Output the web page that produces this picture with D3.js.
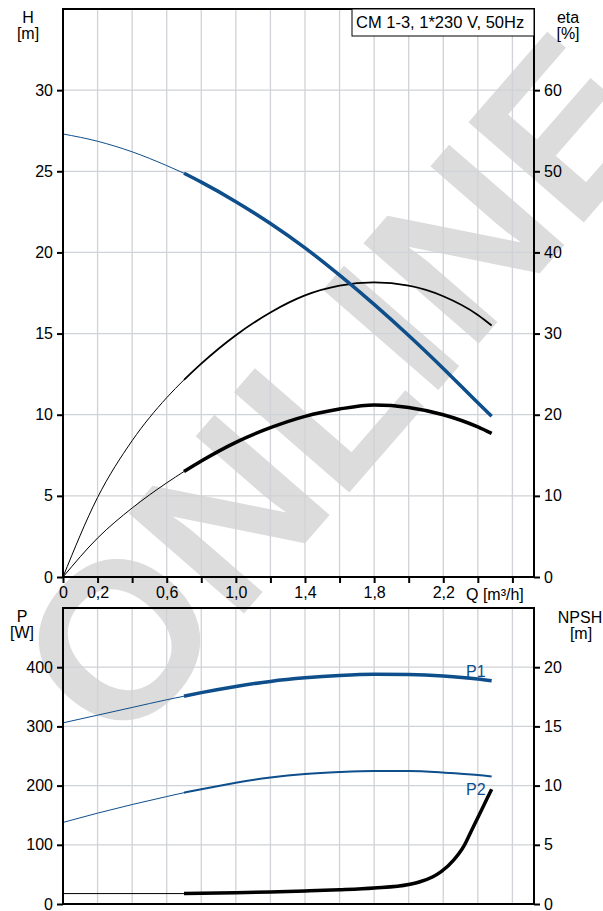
<!DOCTYPE html>
<html>
<head>
<meta charset="utf-8">
<script src="https://cdn.jsdelivr.net/npm/d3@7"></script>
<style>
body { margin: 0; background: #fff; }
text { font-family: "Liberation Sans", Arial, sans-serif; }
</style>
</head>
<body>
<div id="chart"></div>
<script>
// pump curve data
var q = [0, 0.2, 0.4, 0.6, 0.7, 0.8, 1.0, 1.2, 1.4, 1.6, 1.8, 2.0, 2.2, 2.4, 2.48];
var head = [27.3, 26.85, 26.2, 25.35, 24.88, 24.33, 23.13, 21.78, 20.28, 18.6, 16.8, 14.88, 12.85, 10.73, 9.9];
var etaPump = [0, 9.8, 16.8, 22.1, 24.3, 26.3, 29.8, 32.6, 34.7, 35.9, 36.3, 35.9, 34.6, 32.3, 31.0];
var etaTotal = [0, 4.8, 8.5, 11.6, 13.0, 14.3, 16.6, 18.4, 19.8, 20.7, 21.2, 20.9, 20.0, 18.5, 17.7];
var p1 = [306, 319, 332, 345, 351, 357, 367.5, 376, 382, 386, 388, 387.5, 385, 380, 377];
var p2 = [137.8, 153.5, 168, 181.5, 188, 194, 205, 213.5, 219.5, 223, 224.8, 224.5, 222, 218, 215.5];
var npshQ = [0, 0.7, 1.0, 1.2, 1.4, 1.6, 1.8, 2.0, 2.07, 2.14, 2.19, 2.26, 2.32, 2.37, 2.43, 2.48];
var npsh = [0.88, 0.88, 0.95, 1.02, 1.1, 1.2, 1.35, 1.65, 1.9, 2.3, 2.75, 3.7, 4.9, 6.4, 8.2, 9.7];

var qTicks = [0, 0.2, 0.4, 0.6, 0.8, 1.0, 1.2, 1.4, 1.6, 1.8, 2.0, 2.2, 2.4, 2.6];
var qLabels = [0, 0.2, 0.6, 1.0, 1.4, 1.8, 2.2];
var hTicks = [0, 5, 10, 15, 20, 25, 30];
var etaTicks = [0, 10, 20, 30, 40, 50, 60];
var pTicks = [0, 100, 200, 300, 400];
var npshTicks = [0, 5, 10, 15, 20];
var title = "CM 1-3, 1*230 V, 50Hz";
var qSplit = 0.7; // start of the bold (operating) range

var blue = "#0d4e8b";
var gridColor = "#cfd2d6";

var svg = d3.select("#chart")
    .append("svg")
    .attr("width", 603)
    .attr("height", 911);

var x = d3.scaleLinear().domain([0, 2.725]).range([63, 534]);
var yH = d3.scaleLinear().domain([0, 35]).range([577, 9]);
var yEta = d3.scaleLinear().domain([0, 70]).range([577, 9]);
var yP = d3.scaleLinear().domain([0, 500]).range([904, 608]);
var yN = d3.scaleLinear().domain([0, 25]).range([904, 608]);

// watermark
svg.append("text")
    .attr("transform", "translate(338,388) rotate(-49)")
    .attr("text-anchor", "middle")
    .attr("dominant-baseline", "central")
    .attr("font-size", 222)
    .attr("font-weight", "bold")
    .attr("fill", "#dcdcdc")
    .text("ONLINE");

function grid(yScale, yTicks, top, bottom) {
    svg.append("g").selectAll("line.v")
        .data(qTicks.slice(1))
        .enter().append("line")
        .attr("x1", function (d) { return x(d); })
        .attr("x2", function (d) { return x(d); })
        .attr("y1", top)
        .attr("y2", bottom)
        .style("stroke", gridColor)
        .style("stroke-width", 1.3);
    svg.append("g").selectAll("line.h")
        .data(yTicks.slice(1))
        .enter().append("line")
        .attr("x1", 63)
        .attr("x2", 534)
        .attr("y1", function (d) { return yScale(d); })
        .attr("y2", function (d) { return yScale(d); })
        .style("stroke", gridColor)
        .style("stroke-width", 1.3);
}

grid(yH, hTicks, 9, 577);
grid(yP, pTicks, 608, 904);

function curve(qs, vals, yScale, from, to, color, width) {
    var pts = [];
    for (var i = 0; i < qs.length; i++) {
        if (qs[i] >= from && qs[i] <= to) pts.push([qs[i], vals[i]]);
    }
    var line = d3.line()
        .x(function (d) { return x(d[0]); })
        .y(function (d) { return yScale(d[1]); })
        .curve(d3.curveMonotoneX);
    svg.append("path")
        .attr("d", line(pts))
        .style("fill", "none")
        .style("stroke", color)
        .style("stroke-width", width);
}

// top chart: head + efficiencies
curve(q, etaPump, yEta, 0, qSplit, "#000", 1);
curve(q, etaPump, yEta, qSplit, 3, "#000", 1.8);
curve(q, etaTotal, yEta, 0, qSplit, "#000", 1);
curve(q, etaTotal, yEta, qSplit, 3, "#000", 3.5);
curve(q, head, yH, 0, qSplit, blue, 1);
curve(q, head, yH, qSplit, 3, blue, 3.5);

// bottom chart: power + npsh
curve(q, p1, yP, 0, qSplit, blue, 1);
curve(q, p1, yP, qSplit, 3, blue, 3.5);
curve(q, p2, yP, 0, qSplit, blue, 1);
curve(q, p2, yP, qSplit, 3, blue, 2);
curve(npshQ, npsh, yN, 0, qSplit, "#000", 1);
curve(npshQ, npsh, yN, qSplit, 3, "#000", 3.5);

svg.append("text")
    .attr("x", 466)
    .attr("y", 677)
    .attr("font-size", 16)
    .attr("fill", blue)
    .text("P1");
svg.append("text")
    .attr("x", 466)
    .attr("y", 795)
    .attr("font-size", 16)
    .attr("fill", blue)
    .text("P2");

// frames
[[9, 577], [608, 904]].forEach(function (r) {
    svg.append("rect")
        .attr("x", 63)
        .attr("y", r[0])
        .attr("width", 471)
        .attr("height", r[1] - r[0])
        .style("fill", "none")
        .style("stroke", "#000")
        .style("stroke-width", 2);
});

// axes
function styleAxis(g) {
    g.select(".domain").remove();
    g.selectAll(".tick line").style("stroke", "#000").style("stroke-width", 2);
    g.selectAll(".tick text")
        .style("font-family", "Liberation Sans, Arial, sans-serif")
        .style("font-size", "16px")
        .style("fill", "#000");
}

svg.append("g")
    .attr("transform", "translate(63,0)")
    .call(d3.axisLeft(yH).tickValues(hTicks).tickSize(6).tickPadding(4))
    .call(styleAxis);
svg.append("g")
    .attr("transform", "translate(534,0)")
    .call(d3.axisRight(yEta).tickValues(etaTicks).tickSize(6).tickPadding(4))
    .call(styleAxis);
svg.append("g")
    .attr("transform", "translate(0,577)")
    .call(d3.axisBottom(x).tickValues(qTicks).tickSize(6).tickPadding(4)
        .tickFormat(function (d) {
            var on = qLabels.some(function (v) { return Math.abs(v - d) < 1e-6; });
            if (!on) return "";
            return d === 0 ? "0" : d3.format(".1f")(d).replace(".", ",");
        }))
    .call(styleAxis);
svg.append("g")
    .attr("transform", "translate(63,0)")
    .call(d3.axisLeft(yP).tickValues(pTicks).tickSize(6).tickPadding(4))
    .call(styleAxis);
svg.append("g")
    .attr("transform", "translate(534,0)")
    .call(d3.axisRight(yN).tickValues(npshTicks).tickSize(6).tickPadding(4))
    .call(styleAxis);

svg.append("text")
    .attr("x", 466)
    .attr("y", 600)
    .attr("font-size", 16)
    .text("Q [m³/h]");

// axis titles
var titles = [
    ["H", 28, 23], ["[m]", 28, 39],
    ["eta", 568, 23], ["[%]", 568, 39],
    ["P", 22, 622], ["[W]", 22, 638],
    ["NPSH", 580, 623], ["[m]", 581, 639]
];
titles.forEach(function (t) {
    svg.append("text")
        .attr("x", t[1])
        .attr("y", t[2])
        .attr("text-anchor", "middle")
        .attr("font-size", 16)
        .text(t[0]);
});

// legend box
svg.append("rect")
    .attr("x", 352)
    .attr("y", 9)
    .attr("width", 182)
    .attr("height", 27)
    .style("fill", "#fff")
    .style("stroke", "#000")
    .style("stroke-width", 1);
svg.append("text")
    .attr("x", 356)
    .attr("y", 28)
    .attr("font-size", 16.5)
    .text(title);
</script>
</body>
</html>
